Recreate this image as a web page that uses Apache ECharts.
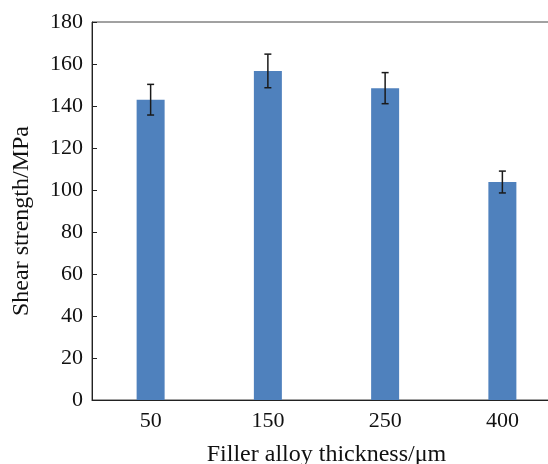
<!DOCTYPE html>
<html>
<head>
<meta charset="utf-8">
<script src="https://cdn.jsdelivr.net/npm/echarts@6/dist/echarts.min.js"></script>
<style>html,body{margin:0;padding:0;background:#fff;}#chart{width:548px;height:464px;}</style>
</head>
<body>
<div id="chart"></div>
<script>
var categories = ['50', '150', '250', '400'];
var shearStrength = [143.0, 156.7, 148.5, 103.8];
var errorValues = [7.3, 8.0, 7.4, 5.2];
var yTicks = { min: 0, max: 180, interval: 20 };

var errorData = categories.map(function (c, i) {
  return [i, shearStrength[i] - errorValues[i], shearStrength[i] + errorValues[i]];
});

var chart = echarts.init(document.getElementById('chart'));
var font = '"Liberation Serif", "Times New Roman", serif';
chart.setOption({
  animation: false,
  grid: { left: 92, top: 22, right: -13, bottom: 64, show: true, borderColor: '#444', borderWidth: 1,
          containLabel: false, outerBoundsMode: 'none' },
  xAxis: {
    type: 'category',
    data: categories,
    name: 'Filler alloy thickness/\u03bcm',
    nameLocation: 'middle',
    nameGap: 43,
    nameTextStyle: { fontFamily: font, fontSize: 24, color: '#111' },
    axisLine: { lineStyle: { color: '#222', width: 1 } },
    axisTick: { show: false },
    axisLabel: { fontFamily: font, fontSize: 22, color: '#111', margin: 10 }
  },
  yAxis: {
    type: 'value',
    min: yTicks.min, max: yTicks.max, interval: yTicks.interval,
    name: 'Shear strength/MPa',
    nameLocation: 'middle',
    nameGap: 58,
    nameRotate: 90,
    nameTextStyle: { fontFamily: font, fontSize: 24, color: '#111', padding: [0, 20, 0, 0] },
    axisLine: { show: true, lineStyle: { color: '#222', width: 1 } },
    axisTick: { show: true, inside: true, length: 5, lineStyle: { color: '#222' } },
    axisLabel: { fontFamily: font, fontSize: 22, color: '#111', margin: 9 },
    splitLine: { show: false }
  },
  series: [
    {
      type: 'bar',
      data: shearStrength,
      barWidth: 28,
      itemStyle: { color: '#4F81BD' }
    },
    {
      type: 'custom',
      data: errorData,
      z: 10,
      renderItem: function (params, api) {
        var x = api.value(0);
        var lo = api.coord([x, api.value(1)]);
        var hi = api.coord([x, api.value(2)]);
        var hw = 3.5;
        var style = { stroke: '#1a1a1a', lineWidth: 1.5, fill: null };
        return {
          type: 'group',
          children: [
            { type: 'line', shape: { x1: hi[0], y1: hi[1], x2: lo[0], y2: lo[1] }, style: style },
            { type: 'line', shape: { x1: hi[0] - hw, y1: hi[1], x2: hi[0] + hw, y2: hi[1] }, style: style },
            { type: 'line', shape: { x1: lo[0] - hw, y1: lo[1], x2: lo[0] + hw, y2: lo[1] }, style: style }
          ]
        };
      }
    }
  ]
});
</script>
</body>
</html>
